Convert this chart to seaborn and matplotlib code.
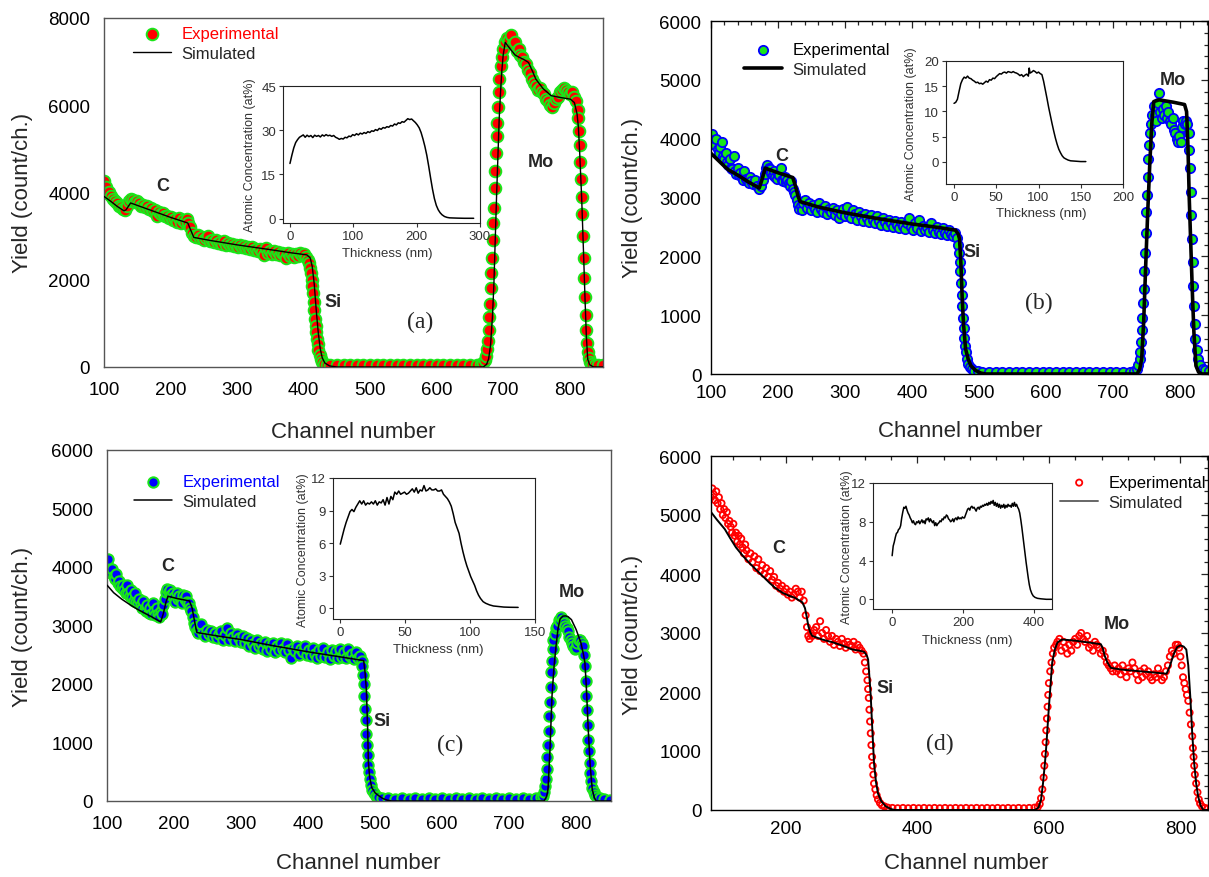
import numpy as np
import matplotlib
matplotlib.use("Agg")
import matplotlib.pyplot as plt
import seaborn as sns
from matplotlib.ticker import MultipleLocator

exp_a = np.array([
    (100, 4270), (101, 4050), (103, 4120), (105, 3980), (107, 4020), (110, 3930), (113, 3860), (116, 3800),
    (119, 3760), (122, 3700), (125, 3660), (128, 3620), (131, 3600), (134, 3700), (137, 3800), (140, 3850),
    (143, 3830), (146, 3780), (149, 3800), (152, 3760), (155, 3700), (158, 3720), (161, 3660), (164, 3700),
    (167, 3620), (170, 3640), (173, 3570), (176, 3600), (179, 3450), (182, 3560), (185, 3500), (188, 3520),
    (191, 3450), (194, 3470), (197, 3420), (200, 3440), (203, 3380), (206, 3400), (209, 3330), (212, 3420),
    (215, 3300), (218, 3380), (221, 3320), (224, 3390), (227, 3300), (230, 3200), (233, 3080), (236, 3000),
    (239, 2980), (242, 3020), (245, 2950), (248, 2980), (251, 2900), (254, 2950), (257, 3010), (260, 2880),
    (263, 2920), (266, 2860), (269, 2900), (272, 2840), (275, 2870), (278, 2820), (281, 2880), (284, 2800),
    (287, 2850), (290, 2790), (293, 2820), (296, 2770), (299, 2800), (302, 2760), (305, 2790), (308, 2740),
    (311, 2770), (314, 2720), (317, 2760), (320, 2700), (323, 2740), (326, 2680), (329, 2710), (332, 2660),
    (335, 2700), (338, 2640), (341, 2560), (344, 2720), (347, 2620), (350, 2660), (353, 2600), (356, 2650),
    (359, 2580), (362, 2640), (365, 2560), (368, 2620), (371, 2580), (374, 2500), (377, 2610), (380, 2550),
    (383, 2590), (386, 2530), (389, 2600), (392, 2550), (395, 2610), (398, 2560), (401, 2580), (404, 2520),
    (406, 2450), (408, 2380), (410, 2280), (411, 2150), (412, 2000), (413, 1850), (414, 1700), (415, 1500),
    (416, 1300), (417, 1100), (418, 950), (419, 800), (420, 650), (421, 520), (422, 400), (424, 280),
    (426, 180), (428, 110), (431, 70), (435, 50), (440, 45), (450, 40), (460, 50), (470, 45), (480, 40),
    (490, 50), (500, 45), (510, 40), (520, 45), (530, 50), (540, 40), (550, 45), (560, 40), (570, 55),
    (580, 45), (590, 40), (600, 45), (610, 50), (620, 40), (630, 45), (640, 40), (650, 50), (660, 45),
    (667, 60), (670, 90), (672, 150), (674, 260), (676, 420), (677, 600), (678, 850), (679, 1150), (680, 1450),
    (681, 1800), (682, 2150), (683, 2500), (684, 2900), (685, 3300), (686, 3650), (687, 4100), (688, 4500),
    (689, 4900), (690, 5300), (691, 5600), (692, 5950), (693, 6300), (694, 6600), (696, 6900), (698, 7100),
    (700, 7300), (702, 7450), (705, 7550), (708, 7500), (711, 7620), (714, 7400), (717, 7450), (720, 7250),
    (723, 7300), (726, 7150), (729, 7100), (732, 7000), (735, 6950), (738, 6800), (741, 6750), (744, 6600),
    (747, 6500), (750, 6450), (753, 6350), (756, 6400), (759, 6300), (762, 6250), (765, 6150), (768, 6100),
    (771, 6000), (774, 5950), (777, 6050), (780, 6150), (783, 6200), (786, 6300), (789, 6350), (792, 6400),
    (795, 6350), (798, 6300), (801, 6250), (804, 6300), (807, 6200), (810, 6100), (812, 5900), (813, 5700),
    (814, 5400), (815, 5100), (816, 4700), (817, 4300), (818, 3900), (819, 3500), (820, 3000), (821, 2500),
    (822, 2050), (823, 1600), (824, 1200), (825, 850), (826, 550), (827, 350), (829, 200), (831, 110),
    (834, 70), (838, 50), (843, 45), (850, 40),
])

sim_a = np.array([
    (100, 3910), (110, 3800), (120, 3680), (130, 3580), (133, 3600), (140, 3760), (160, 3650), (180, 3540),
    (200, 3430), (226, 3300), (230, 3150), (235, 2970), (260, 2900), (300, 2800), (350, 2690), (380, 2620),
    (405, 2570), (410, 2500), (413, 2300), (416, 1900), (419, 1300), (422, 790), (425, 420), (428, 210),
    (432, 90), (439, 25), (450, 0), (670, 0), (675, 60), (678, 180), (681, 500), (684, 1200), (686, 1900),
    (688, 2900), (690, 3900), (692, 4800), (694, 5700), (696, 6300), (698, 6800), (700, 7150), (703, 7440),
    (710, 7300), (718, 7150), (724, 7100), (732, 7040), (738, 6980), (744, 6780), (749, 6600), (760, 6380),
    (772, 6220), (785, 6180), (801, 6140), (807, 6060), (811, 5800), (813, 5500), (815, 4900), (818, 3850),
    (821, 2500), (823, 1550), (825, 700), (827, 180), (830, 50), (836, 0), (850, 0),
])

exp_b = np.array([
    (100, 3950), (101, 4050), (102, 4080), (104, 3980), (106, 3900), (108, 4000), (110, 3820), (112, 3750),
    (114, 3850), (116, 3950), (118, 3700), (120, 3650), (122, 3750), (124, 3600), (126, 3550), (128, 3650),
    (130, 3500), (132, 3480), (134, 3700), (136, 3450), (138, 3400), (140, 3500), (142, 3380), (144, 3420),
    (146, 3350), (148, 3300), (150, 3450), (152, 3320), (154, 3300), (156, 3250), (158, 3350), (160, 3280),
    (163, 3230), (166, 3300), (169, 3200), (172, 3150), (175, 3200), (178, 3300), (180, 3400), (182, 3500),
    (184, 3550), (186, 3500), (188, 3480), (190, 3420), (192, 3380), (194, 3450), (196, 3350), (198, 3320),
    (200, 3400), (202, 3380), (204, 3500), (206, 3300), (208, 3280), (210, 3350), (212, 3260), (214, 3300),
    (216, 3250), (218, 3200), (220, 3280), (222, 3150), (224, 3100), (226, 3050), (228, 2950), (230, 2880),
    (232, 2800), (234, 2850), (236, 2780), (238, 2900), (240, 2950), (243, 2820), (246, 2900), (249, 2780),
    (252, 2880), (255, 2800), (258, 2750), (261, 2900), (264, 2800), (267, 2750), (270, 2850), (273, 2720),
    (276, 2800), (279, 2760), (282, 2820), (285, 2700), (288, 2780), (291, 2650), (294, 2720), (297, 2800),
    (300, 2680), (303, 2840), (306, 2700), (309, 2650), (312, 2780), (315, 2720), (318, 2620), (321, 2760),
    (324, 2680), (327, 2600), (330, 2720), (333, 2650), (336, 2580), (339, 2700), (342, 2620), (345, 2560),
    (348, 2680), (351, 2600), (354, 2540), (357, 2650), (360, 2580), (363, 2520), (366, 2620), (369, 2560),
    (372, 2500), (375, 2600), (378, 2540), (381, 2480), (384, 2580), (387, 2520), (390, 2460), (393, 2560),
    (396, 2650), (399, 2500), (402, 2450), (405, 2560), (408, 2480), (411, 2620), (414, 2430), (417, 2520),
    (420, 2440), (423, 2500), (426, 2420), (429, 2560), (432, 2450), (435, 2400), (438, 2500), (441, 2420),
    (444, 2380), (447, 2480), (450, 2400), (453, 2360), (456, 2450), (459, 2380), (462, 2350), (465, 2400),
    (467, 2320), (469, 2200), (470, 2050), (471, 1900), (472, 1750), (473, 1550), (474, 1350), (475, 1150),
    (476, 950), (477, 780), (478, 620), (479, 480), (480, 380), (482, 260), (484, 170), (486, 120),
    (489, 80), (493, 55), (498, 45), (505, 40), (515, 35), (525, 40), (535, 35), (545, 40), (555, 35),
    (565, 40), (575, 35), (585, 40), (595, 35), (605, 40), (615, 35), (625, 40), (635, 35), (645, 40),
    (655, 35), (665, 40), (675, 35), (685, 40), (695, 35), (705, 40), (715, 35), (725, 40), (732, 50),
    (736, 90), (738, 150), (740, 250), (741, 380), (742, 550), (743, 750), (744, 950), (745, 1200),
    (746, 1450), (747, 1750), (748, 2050), (749, 2400), (750, 2750), (751, 3050), (752, 3350), (753, 3650),
    (754, 3900), (755, 4100), (757, 4250), (759, 4400), (761, 4550), (763, 4400), (765, 4300), (767, 4600),
    (769, 4780), (771, 4450), (773, 4350), (775, 4500), (777, 4400), (779, 4550), (781, 4350), (783, 4450),
    (785, 4300), (787, 4250), (789, 4350), (791, 4150), (793, 4100), (795, 4000), (797, 3950), (799, 4050),
    (801, 3950), (803, 4200), (805, 4300), (807, 4250), (809, 4300), (811, 4250), (813, 4100), (814, 3800),
    (815, 3500), (816, 3100), (817, 2700), (818, 2300), (819, 1900), (820, 1500), (821, 1150), (822, 850),
    (823, 600), (825, 400), (827, 250), (830, 150), (834, 90), (838, 60), (843, 45),
])

sim_b = np.array([
    (100, 3750), (110, 3640), (120, 3530), (126, 3470), (140, 3380), (155, 3270), (172, 3160), (176, 3300),
    (181, 3500), (200, 3420), (222, 3340), (226, 3200), (230, 3020), (233, 2930), (260, 2840), (300, 2740),
    (350, 2640), (400, 2550), (440, 2490), (465, 2445), (469, 2380), (471, 2300), (473, 1900), (475, 1300),
    (477, 850), (480, 430), (484, 250), (488, 140), (495, 60), (503, 15), (510, 0), (736, 0), (740, 80),
    (743, 260), (746, 900), (749, 1850), (752, 2750), (755, 3550), (758, 4250), (761, 4630), (769, 4660),
    (790, 4620), (807, 4580), (810, 4460), (812, 3900), (814, 2990), (816, 2300), (819, 1280), (821, 700),
    (824, 140), (828, 30), (833, 0), (845, 0),
])

exp_c = np.array([
    (100, 4050), (101, 3980), (102, 4140), (104, 3950), (106, 3900), (108, 3960), (110, 3850), (112, 3800),
    (114, 3880), (116, 3720), (118, 3760), (120, 3680), (122, 3640), (124, 3700), (126, 3600), (128, 3560),
    (130, 3700), (132, 3550), (134, 3500), (136, 3600), (138, 3480), (140, 3420), (142, 3550), (144, 3400),
    (146, 3380), (148, 3460), (150, 3350), (152, 3300), (154, 3420), (156, 3280), (158, 3250), (160, 3350),
    (162, 3220), (164, 3300), (166, 3200), (168, 3380), (170, 3250), (172, 3180), (174, 3300), (176, 3200),
    (178, 3150), (180, 3250), (182, 3200), (184, 3350), (186, 3450), (188, 3580), (190, 3620), (192, 3580),
    (194, 3600), (196, 3520), (198, 3560), (200, 3480), (202, 3400), (204, 3550), (206, 3450), (208, 3500),
    (210, 3420), (212, 3380), (214, 3520), (216, 3450), (218, 3500), (220, 3400), (222, 3380), (224, 3300),
    (226, 3250), (228, 3150), (230, 3050), (232, 2980), (234, 2900), (236, 2880), (238, 2950), (240, 3020),
    (243, 2880), (246, 2820), (249, 2920), (252, 2850), (255, 2900), (258, 2800), (261, 2880), (264, 2780),
    (267, 2850), (270, 2900), (273, 2760), (276, 2840), (279, 2950), (282, 2750), (285, 2880), (288, 2800),
    (291, 2740), (294, 2860), (297, 2780), (300, 2720), (303, 2820), (306, 2700), (309, 2780), (312, 2650),
    (315, 2750), (318, 2680), (321, 2620), (324, 2760), (327, 2650), (330, 2700), (333, 2600), (336, 2720),
    (339, 2560), (342, 2680), (345, 2600), (348, 2700), (351, 2550), (354, 2650), (357, 2580), (360, 2700),
    (363, 2600), (366, 2540), (369, 2680), (372, 2580), (375, 2440), (378, 2620), (381, 2560), (384, 2650),
    (387, 2500), (390, 2600), (393, 2540), (396, 2650), (399, 2500), (402, 2580), (405, 2480), (408, 2620),
    (411, 2520), (414, 2450), (417, 2580), (420, 2480), (423, 2620), (426, 2460), (429, 2550), (432, 2430),
    (435, 2580), (438, 2480), (441, 2560), (444, 2450), (447, 2600), (450, 2470), (453, 2550), (456, 2450),
    (459, 2600), (462, 2480), (465, 2520), (468, 2420), (471, 2550), (474, 2450), (477, 2480), (480, 2400),
    (481, 2300), (482, 2150), (483, 2000), (484, 1800), (485, 1580), (486, 1380), (487, 1150), (488, 950),
    (489, 780), (490, 620), (491, 500), (492, 380), (494, 270), (496, 190), (498, 130), (501, 90),
    (505, 60), (510, 50), (520, 45), (530, 40), (540, 45), (550, 40), (560, 45), (570, 40), (580, 45),
    (590, 40), (600, 45), (610, 40), (620, 45), (630, 40), (640, 45), (650, 40), (660, 45), (670, 40),
    (680, 45), (690, 40), (700, 45), (710, 40), (720, 45), (730, 40), (740, 45), (747, 60), (750, 90),
    (752, 150), (754, 250), (755, 380), (756, 550), (757, 750), (758, 950), (759, 1200), (760, 1450),
    (761, 1700), (762, 1950), (763, 2200), (764, 2400), (765, 2600), (766, 2750), (768, 2850), (770, 2950),
    (772, 3000), (774, 3100), (776, 3080), (778, 3150), (780, 3100), (782, 3050), (784, 3000), (786, 2950),
    (788, 2900), (790, 2800), (792, 2750), (794, 2700), (796, 2650), (798, 2600), (800, 2620), (802, 2700),
    (804, 2750), (806, 2750), (808, 2700), (810, 2650), (812, 2500), (813, 2300), (814, 2050), (815, 1800),
    (816, 1550), (817, 1300), (818, 1050), (819, 850), (820, 650), (821, 480), (822, 350), (824, 230),
    (826, 150), (828, 100), (831, 65), (835, 45), (841, 35), (850, 25),
])

sim_c = np.array([
    (100, 3690), (110, 3560), (122, 3450), (135, 3350), (145, 3280), (158, 3200), (168, 3140), (180, 3060),
    (184, 3200), (188, 3400), (191, 3500), (205, 3460), (223, 3420), (227, 3300), (231, 3050), (234, 2880),
    (260, 2830), (300, 2760), (350, 2650), (400, 2550), (450, 2460), (483, 2400), (485, 2200), (487, 1900),
    (489, 1200), (490, 660), (492, 400), (495, 230), (500, 140), (506, 85), (512, 40), (518, 15), (525, 0),
    (752, 0), (756, 80), (758, 200), (761, 900), (764, 1800), (767, 2300), (770, 2650), (773, 2950),
    (776, 3110), (780, 3160), (784, 3165), (788, 3150), (793, 3100), (800, 2930), (807, 2710), (811, 2500),
    (813, 2370), (815, 2000), (818, 1230), (821, 600), (824, 200), (827, 60), (830, 0), (852, 0),
])

exp_d = np.array([
    (86, 5300), (88, 5450), (90, 5350), (92, 5250), (94, 5400), (96, 5200), (98, 5300), (100, 5100),
    (102, 5200), (104, 5000), (106, 5100), (108, 4950), (110, 5050), (112, 4850), (114, 4900), (116, 4800),
    (118, 4700), (120, 4850), (122, 4650), (124, 4700), (126, 4550), (128, 4650), (130, 4500), (132, 4600),
    (134, 4450), (136, 4350), (138, 4500), (140, 4400), (143, 4250), (146, 4350), (149, 4200), (152, 4300),
    (155, 4100), (158, 4250), (161, 4050), (164, 4150), (167, 4000), (170, 4100), (173, 3950), (176, 4050),
    (179, 3900), (182, 3950), (185, 3800), (188, 3850), (191, 3750), (194, 3800), (197, 3700), (200, 3750),
    (203, 3650), (206, 3700), (209, 3600), (212, 3650), (215, 3750), (218, 3700), (221, 3600), (224, 3700),
    (227, 3550), (230, 3300), (232, 3100), (234, 2950), (236, 2900), (238, 3000), (240, 2950), (243, 3050),
    (246, 3100), (249, 2950), (252, 3200), (255, 3000), (258, 2900), (261, 3050), (264, 2950), (267, 2850),
    (270, 2950), (273, 2800), (276, 2900), (279, 2850), (282, 2780), (285, 2900), (288, 2820), (291, 2750),
    (294, 2850), (297, 2800), (300, 2780), (303, 2850), (306, 2720), (309, 2800), (312, 2750), (315, 2700),
    (318, 2650), (320, 2500), (322, 2350), (324, 2200), (325, 2050), (326, 1900), (327, 1700), (328, 1500),
    (329, 1300), (330, 1100), (331, 900), (332, 750), (333, 600), (334, 450), (336, 350), (338, 250),
    (340, 180), (343, 120), (346, 80), (350, 60), (355, 40), (362, 35), (370, 30), (378, 35), (386, 30),
    (394, 35), (402, 30), (410, 35), (418, 30), (426, 35), (434, 30), (442, 35), (450, 30), (458, 35),
    (466, 30), (474, 35), (482, 30), (490, 35), (498, 30), (506, 35), (514, 30), (522, 35), (530, 30),
    (538, 35), (546, 30), (554, 35), (562, 30), (570, 35), (578, 40), (583, 50), (586, 100), (588, 200),
    (590, 350), (592, 550), (593, 750), (594, 950), (595, 1150), (596, 1350), (597, 1550), (598, 1750),
    (599, 1950), (600, 2150), (602, 2350), (604, 2500), (606, 2650), (608, 2750), (611, 2800), (613, 2850),
    (616, 2900), (619, 2700), (622, 2850), (625, 2750), (628, 2650), (631, 2800), (634, 2700), (637, 2850),
    (640, 2900), (643, 2800), (646, 2950), (649, 3000), (652, 2900), (655, 2850), (658, 2950), (661, 2750),
    (664, 2800), (667, 2700), (670, 2850), (673, 2800), (676, 2750), (679, 2650), (682, 2700), (685, 2600),
    (688, 2500), (691, 2450), (694, 2400), (697, 2350), (700, 2450), (703, 2350), (706, 2400), (709, 2300),
    (712, 2450), (715, 2350), (718, 2250), (721, 2400), (724, 2350), (727, 2500), (730, 2400), (733, 2300),
    (736, 2200), (739, 2350), (742, 2250), (745, 2400), (748, 2300), (751, 2350), (754, 2250), (757, 2200),
    (760, 2300), (763, 2250), (766, 2400), (769, 2300), (772, 2200), (775, 2250), (778, 2350), (781, 2450),
    (784, 2600), (787, 2700), (790, 2650), (793, 2800), (796, 2800), (798, 2750), (800, 2600), (802, 2450),
    (804, 2250), (806, 2150), (808, 2050), (810, 1950), (812, 1850), (814, 1650), (816, 1450), (818, 1250),
    (819, 1050), (820, 900), (821, 750), (822, 600), (824, 450), (826, 300), (828, 180), (830, 110),
    (833, 60), (837, 35), (841, 25),
])

sim_d = np.array([
    (86, 5050), (95, 4920), (107, 4760), (115, 4610), (124, 4450), (135, 4300), (145, 4180), (154, 4080),
    (165, 3960), (175, 3850), (183, 3770), (195, 3680), (205, 3630), (213, 3600), (225, 3520), (229, 3420),
    (232, 3250), (234, 3120), (237, 3010), (240, 2950), (255, 2890), (272, 2840), (290, 2770), (301, 2720),
    (312, 2700), (319, 2680), (323, 2620), (325, 2550), (327, 2250), (329, 1930), (331, 1450), (334, 790),
    (337, 470), (340, 280), (345, 150), (352, 60), (360, 15), (366, 0), (579, 0), (584, 40), (588, 170),
    (591, 450), (594, 800), (596, 1080), (600, 1750), (603, 2200), (605, 2500), (609, 2720), (613, 2840),
    (620, 2890), (640, 2870), (660, 2840), (679, 2810), (682, 2740), (685, 2610), (689, 2500), (694, 2410),
    (710, 2380), (740, 2350), (760, 2330), (779, 2310), (784, 2440), (788, 2580), (791, 2670), (795, 2760),
    (800, 2790), (805, 2770), (809, 2720), (812, 2450), (815, 1930), (818, 1300), (821, 790), (824, 450),
    (827, 230), (831, 70), (835, 0), (842, 0),
])

# ---- depth profiles for the insets: (thickness nm, at%) ----
prof_a = np.array([
    (0, 18.7), (3, 21.5), (6, 24.0), (9, 25.8), (12, 26.8), (15, 27.6), (18, 28.0), (21, 28.4), (24, 27.6),
    (27, 28.3), (30, 27.8), (33, 28.2), (36, 27.5), (39, 28.3), (42, 27.9), (45, 28.2), (48, 27.7), (51, 28.4),
    (54, 28.0), (57, 28.5), (60, 28.1), (63, 28.3), (66, 27.9), (69, 28.2), (72, 27.6), (75, 27.3), (78, 26.9),
    (81, 27.2), (84, 27.0), (87, 27.6), (90, 27.4), (93, 28.0), (96, 27.8), (99, 28.5), (102, 28.2), (105, 28.8),
    (108, 28.4), (111, 29.0), (114, 28.7), (117, 29.2), (120, 28.9), (123, 29.5), (126, 29.2), (129, 29.8),
    (132, 29.6), (135, 30.2), (138, 29.9), (141, 30.6), (144, 30.3), (147, 30.9), (150, 30.7), (153, 31.2),
    (156, 31.0), (159, 31.6), (162, 31.4), (165, 32.1), (168, 31.8), (171, 32.5), (174, 32.3), (177, 32.9),
    (180, 32.7), (183, 33.3), (186, 33.9), (189, 33.6), (192, 33.8), (195, 33.2), (198, 32.6), (201, 31.8),
    (204, 30.8), (207, 29.2), (210, 27.0), (213, 24.5), (216, 21.5), (219, 17.8), (222, 13.8), (225, 10.0),
    (228, 6.8), (231, 4.5), (234, 3.0), (237, 2.0), (240, 1.3), (244, 0.7), (248, 0.4), (252, 0.25),
    (258, 0.2), (265, 0.15), (275, 0.1), (290, 0.1),
])

prof_b = np.array([
    (0, 11.6), (2, 11.8), (4, 12.4), (6, 14.0), (8, 15.5), (10, 16.3), (12, 16.8), (14, 16.6), (16, 17.0),
    (18, 16.6), (20, 16.5), (22, 16.2), (24, 16.0), (26, 15.7), (28, 15.8), (30, 15.5), (32, 15.6), (34, 15.4),
    (36, 15.7), (38, 16.0), (40, 15.8), (42, 16.3), (44, 16.2), (46, 16.6), (48, 16.5), (50, 16.9), (52, 17.2),
    (54, 17.5), (56, 17.4), (58, 17.7), (60, 17.8), (62, 17.6), (64, 17.9), (66, 17.8), (68, 17.7), (70, 17.9),
    (72, 17.7), (74, 17.6), (76, 17.4), (78, 17.1), (80, 17.3), (82, 16.9), (84, 17.2), (86, 17.4), (88, 17.0),
    (89, 18.6), (90, 17.6), (92, 17.8), (94, 18.1), (96, 17.9), (98, 17.6), (100, 17.8), (102, 17.5),
    (104, 17.3), (106, 16.0), (108, 14.3), (110, 12.6), (112, 10.8), (114, 9.2), (116, 7.6), (118, 6.1),
    (120, 4.7), (122, 3.5), (124, 2.5), (126, 1.8), (128, 1.2), (130, 0.8), (132, 0.6), (135, 0.35),
    (138, 0.2), (142, 0.15), (146, 0.1), (150, 0.05), (156, 0.05),
])

prof_c = np.array([
    (0, 5.9), (1.5, 6.6), (3, 7.3), (4.5, 7.9), (6, 8.4), (7.5, 8.9), (9, 9.1), (10.5, 8.9), (12, 9.3),
    (13.5, 9.6), (15, 9.9), (16.5, 9.6), (18, 9.9), (19.5, 9.5), (21, 9.7), (22.5, 9.6), (24, 9.8), (25.5, 9.6),
    (27, 9.9), (28.5, 9.5), (30, 9.8), (31.5, 9.7), (33, 10.0), (34.5, 9.5), (36, 10.2), (37.5, 9.6),
    (39, 10.3), (40.5, 10.0), (42, 10.7), (43.5, 10.5), (45, 10.8), (46.5, 10.5), (48, 10.6), (49.5, 10.7),
    (51, 10.5), (52.5, 10.6), (54, 10.8), (55.5, 11.0), (57, 10.7), (58.5, 11.1), (60, 10.6), (61.5, 10.9),
    (63, 10.8), (64.5, 11.3), (66, 10.8), (67.5, 10.9), (69, 11.1), (70.5, 10.9), (72, 10.9), (73.5, 11.0),
    (75, 10.8), (76.5, 10.8), (78, 10.9), (79.5, 10.5), (81, 10.3), (82.5, 10.1), (84, 9.8), (85.5, 9.4),
    (87, 8.7), (88.5, 7.9), (90, 7.4), (91.5, 6.9), (93, 6.0), (94.5, 5.2), (96, 4.5), (97.5, 3.9),
    (99, 3.4), (100.5, 2.9), (102, 2.5), (103.5, 2.1), (105, 1.6), (106.5, 1.2), (108, 0.9), (110, 0.6),
    (112, 0.45), (115, 0.3), (118, 0.2), (122, 0.15), (126, 0.1), (131, 0.08), (137, 0.07),
])

prof_d = np.array([
    (0, 4.5), (3, 5.5), (6, 5.9), (9, 6.4), (12, 6.8), (15, 6.9), (18, 7.2), (21, 7.3), (24, 7.6), (27, 8.4),
    (30, 9.0), (33, 9.5), (36, 9.4), (39, 9.6), (42, 9.2), (45, 8.9), (48, 8.7), (51, 8.4), (54, 8.2),
    (57, 7.9), (60, 8.1), (63, 7.8), (66, 7.7), (69, 8.0), (72, 7.9), (75, 8.1), (78, 7.8), (81, 8.0),
    (84, 8.2), (87, 7.9), (90, 8.1), (93, 7.8), (96, 8.3), (99, 8.2), (102, 8.4), (105, 8.0), (108, 8.3),
    (111, 8.1), (114, 7.9), (117, 8.1), (120, 7.6), (123, 7.9), (126, 7.6), (129, 7.8), (132, 7.9),
    (135, 8.1), (138, 8.0), (141, 8.3), (144, 8.2), (147, 8.5), (150, 8.4), (153, 8.7), (156, 8.6),
    (159, 8.3), (162, 8.2), (165, 8.0), (168, 8.1), (171, 8.3), (174, 8.0), (177, 8.3), (180, 8.4),
    (183, 8.2), (186, 8.5), (189, 8.3), (192, 8.4), (195, 8.3), (198, 8.5), (201, 8.4), (204, 8.4),
    (207, 8.7), (210, 9.0), (213, 9.3), (216, 9.4), (219, 9.2), (222, 9.5), (225, 9.6), (228, 9.4),
    (231, 9.5), (234, 9.3), (237, 9.1), (240, 9.4), (243, 9.5), (246, 9.3), (249, 9.6), (252, 9.5),
    (255, 9.7), (258, 9.6), (261, 9.8), (264, 9.7), (267, 9.9), (270, 9.7), (273, 10.0), (276, 9.8),
    (279, 10.1), (282, 9.9), (285, 10.2), (288, 9.7), (291, 10.0), (294, 9.6), (297, 9.9), (300, 9.5),
    (303, 9.8), (306, 9.4), (309, 9.7), (312, 9.5), (315, 9.8), (318, 9.4), (321, 9.7), (324, 9.5),
    (327, 9.8), (330, 9.6), (333, 9.7), (336, 9.5), (339, 9.9), (342, 9.6), (345, 10.0), (348, 9.6),
    (351, 9.8), (354, 9.5), (357, 9.3), (360, 8.9), (363, 8.2), (366, 7.4), (369, 6.5), (372, 5.6),
    (375, 4.7), (378, 3.8), (381, 3.0), (384, 2.2), (387, 1.5), (390, 1.0), (394, 0.6), (398, 0.35),
    (403, 0.2), (410, 0.1), (420, 0.05), (435, 0.0), (450, 0.0),
])

RED, GREEN, BLUE = "#ff0000", "#19e619", "#0000ff"

sns.set_style("white")
plt.rcParams["font.family"] = ["Liberation Sans", "DejaVu Sans"]

W, H = 1209, 878
fig = plt.figure(figsize=(W / 100, H / 100), dpi=100)


def rect(l, t, r, b):
    return [l / W, 1 - b / H, (r - l) / W, (b - t) / H]


def fxy(x, y):
    return (x / W, 1 - y / H)


def main_panel(box, xlim, ylim, ystep, exp, sim, face, edge, s, mlw, lw, boxed):
    ax = fig.add_axes(rect(*box))
    sns.scatterplot(x=exp[:, 0], y=exp[:, 1], ax=ax, s=s, color=face, edgecolor=edge,
                    linewidth=mlw, zorder=2, legend=False)
    sns.lineplot(x=sim[:, 0], y=sim[:, 1], ax=ax, color="black", lw=lw, zorder=3,
                 estimator=None, sort=False, legend=False)
    ax.set_xlim(*xlim)
    ax.set_ylim(*ylim)
    ax.set_xlabel("")
    ax.set_ylabel("")
    ax.yaxis.set_major_locator(MultipleLocator(ystep))
    if boxed:
        for sp in ax.spines.values():
            sp.set_color("black")
            sp.set_linewidth(1.0)
        ax.tick_params(which="both", direction="in", top=True, right=True, width=0.9)
        ax.tick_params(which="major", length=5)
        ax.tick_params(which="minor", length=3)
        ax.yaxis.set_minor_locator(MultipleLocator(ystep / 5))
    else:
        for sp in ax.spines.values():
            sp.set_color("#555555")
            sp.set_linewidth(1.0)
        ax.tick_params(which="major", direction="inout", length=6, width=1.0, color="#333333")
    ax.tick_params(labelsize=13.5, pad=7, labelcolor="black")
    return ax


def legend(ax, x, y, text_color, line_color="black"):
    h_exp = ax.collections[0]
    h_sim = ax.lines[0]
    leg = ax.legend([h_exp, h_sim], ["Experimental", "Simulated"], loc="upper left",
                    bbox_to_anchor=fxy(x, y), bbox_transform=fig.transFigure, frameon=False,
                    fontsize=12, handlelength=2.3, handletextpad=0.6, labelspacing=0.3,
                    borderpad=0, borderaxespad=0)
    leg.get_texts()[0].set_color(text_color)
    leg.get_lines()[0].set_color(line_color)
    return leg


def inset(box, xlim, ylim, xticks, yticks, prof, ylab_xy, xlab_xy):
    ax = fig.add_axes(rect(*box))
    sns.lineplot(x=prof[:, 0], y=prof[:, 1], ax=ax, color="black", lw=1.1,
                 estimator=None, sort=False, legend=False)
    ax.set_xlim(*xlim)
    ax.set_ylim(*ylim)
    ax.set_xticks(xticks)
    ax.set_yticks(yticks)
    for sp in ax.spines.values():
        sp.set_color("#222222")
        sp.set_linewidth(0.8)
    ax.tick_params(direction="out", length=3, width=0.8, labelsize=9.5, pad=2,
                   colors="#333333", bottom=True, left=True)
    ax.set_xlabel("Thickness (nm)", fontsize=9.5, color="#333333", va="center", ha="center")
    ax.xaxis.set_label_coords(*fxy(*xlab_xy), transform=fig.transFigure)
    ax.set_ylabel("Atomic Concentration (at%)", fontsize=9, color="#333333", va="center", ha="center")
    ax.yaxis.set_label_coords(*fxy(*ylab_xy), transform=fig.transFigure)
    return ax


def axis_labels(ax, xpos, ypos):
    ax.set_xlabel("Channel number", fontsize=16, va="center", ha="center")
    ax.xaxis.set_label_coords(*fxy(*xpos), transform=fig.transFigure)
    ax.set_ylabel("Yield (count/ch.)", fontsize=16, va="center", ha="center")
    ax.yaxis.set_label_coords(*fxy(*ypos), transform=fig.transFigure)


def tags(ax, c_xy, si_xy, mo_xy, letter, letter_xy):
    for txt, xy in (("C", c_xy), ("Si", si_xy), ("Mo", mo_xy)):
        ax.text(xy[0], xy[1], txt, fontsize=13, fontweight="bold", ha="center", va="center")
    ax.text(letter_xy[0], letter_xy[1], letter, fontsize=17, family="Liberation Serif",
            ha="center", va="center")


# (a)
ax_a = main_panel((104, 19, 603, 368), (100, 850), (0, 8000), 2000, exp_a, sim_a,
                  RED, GREEN, 70, 1.4, 1.0, False)
legend(ax_a, 133, 27, RED)
axis_labels(ax_a, (353, 433), (23, 193))
tags(ax_a, (189, 4170), (444, 1490), (757, 4700), "(a)", (575, 1054))
inset((283, 87, 480, 224), (-11, 300), (-1.5, 45), [0, 100, 200, 300], [0, 15, 30, 45],
      prof_a, (250, 155), (387, 254))

# (b)
ax_b = main_panel((711, 22, 1208, 375), (100, 842), (0, 6000), 1000, exp_b, sim_b,
                  GREEN, BLUE, 45, 1.3, 2.6, True)
ax_b.xaxis.set_minor_locator(MultipleLocator(20))
legend(ax_b, 744, 43, "black")
axis_labels(ax_b, (960, 432), (633, 198))
tags(ax_b, (205, 3720), (490, 2074), (790, 5014), "(b)", (590, 1224))
inset((946, 62, 1123, 185), (-9.5, 200), (-4.4, 20), [0, 50, 100, 150, 200], [0, 5, 10, 15, 20],
      prof_b, (911, 124), (1041, 214))

# (c)
ax_c = main_panel((107, 451, 611, 802), (100, 852), (0, 6000), 1000, exp_c, sim_c,
                  BLUE, GREEN, 55, 1.5, 1.1, False)
legend(ax_c, 134, 475, BLUE)
axis_labels(ax_c, (358, 864), (23, 627))
tags(ax_c, (190, 4034), (510, 1368), (794, 3573), "(c)", (612, 974))
inset((333, 479, 535, 620), (-5.6, 150), (-1.0, 12), [0, 50, 100, 150], [0, 3, 6, 9, 12],
      prof_c, (303, 550), (438, 650))

# (d)
ax_d = main_panel((711, 457, 1208, 811), (86, 842), (0, 6000), 1000, exp_d, sim_d,
                  "none", RED, 20, 1.3, 1.4, True)
ax_d.collections[0].set_facecolor("none")
ax_d.xaxis.set_major_locator(MultipleLocator(200))
ax_d.xaxis.set_minor_locator(MultipleLocator(40))
legend(ax_d, 1060, 476, "black", line_color="#666666")
axis_labels(ax_d, (966, 864), (633, 635))
tags(ax_d, (189, 4441), (350, 2068), (704, 3169), "(d)", (434, 1136))
inset((873, 484, 1052, 610), (-54, 451), (-1.0, 12), [0, 200, 400], [0, 4, 8, 12],
      prof_d, (847, 547), (967, 641))

fig.savefig("out.png", dpi=100)
